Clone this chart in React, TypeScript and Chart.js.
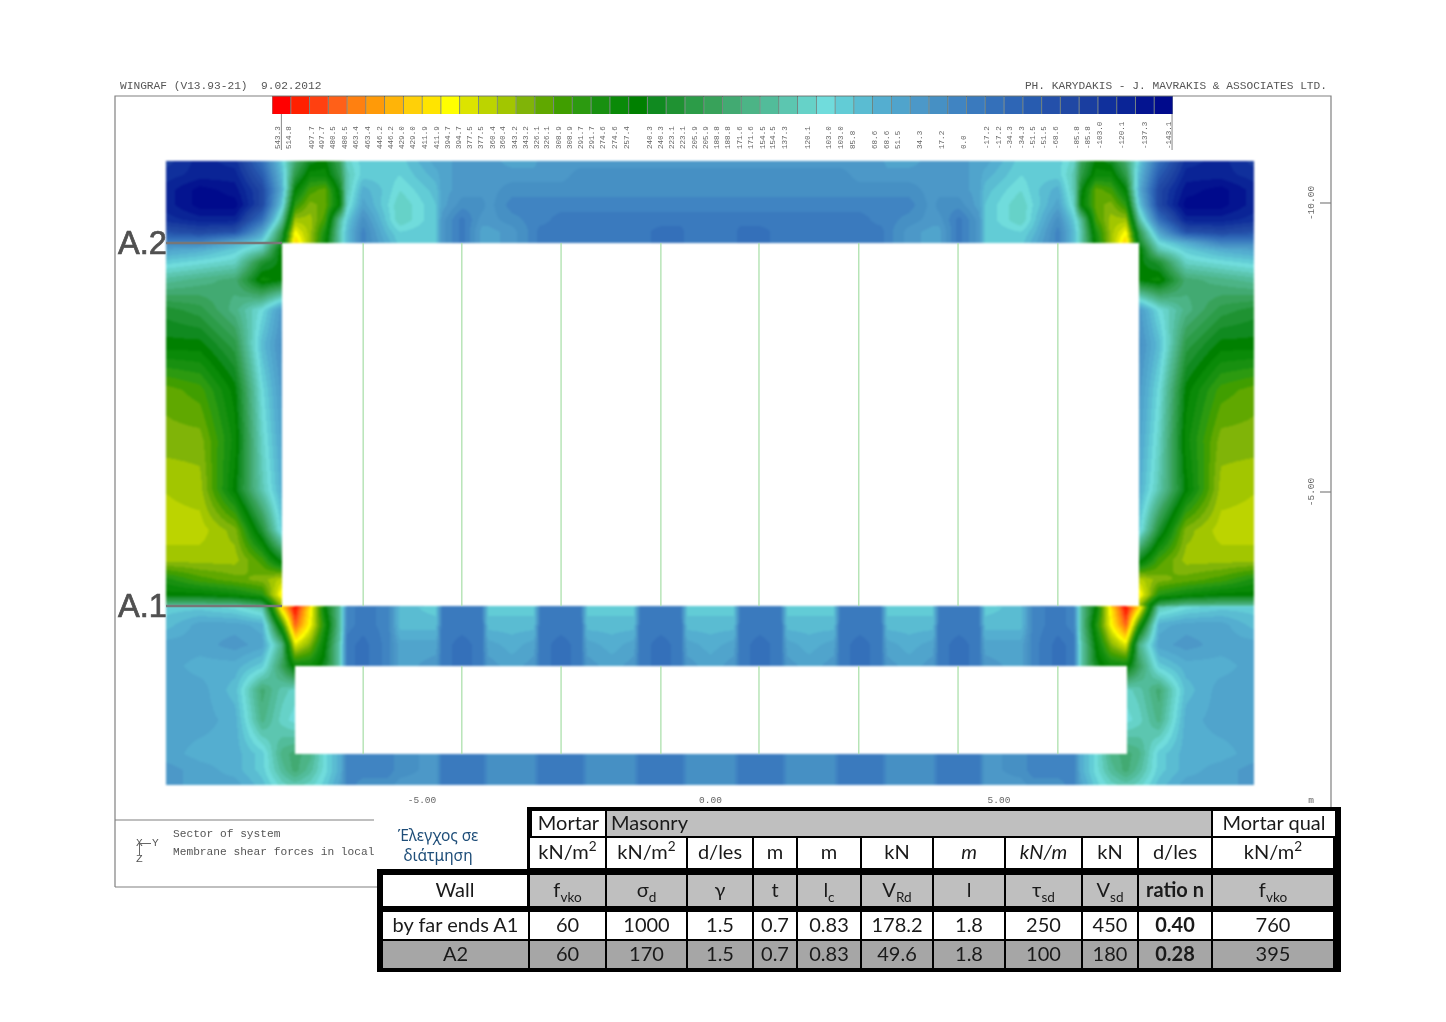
import React, { useEffect, useRef } from "react";
import { Chart, registerables } from "chart.js";

Chart.register(...registerables);

// ---------- data ----------
const LEVEL_MAX = 543.3;
const LEVEL_MIN = -143.1;

const bandColors = [
  "#ff0000", "#ff2000", "#ff4010", "#ff6018", "#ff8010", "#ff9a08", "#ffb408", "#ffd008",
  "#ffe400", "#ffff00", "#dce400", "#bcd400", "#a2c600", "#80b408", "#60a800", "#409e00",
  "#2c9a10", "#189010", "#0a8a08", "#008000", "#108a20", "#1f9232", "#2c9c48", "#38a25a",
  "#42aa72", "#4cb486", "#52bc9a", "#5cc6b0", "#66d2c8", "#70dcdc", "#62ccd6", "#5abcd2",
  "#54aed0", "#50a4cc", "#4c98c8", "#4690c4", "#4084c2", "#3a7abe", "#3470ba", "#2e66b6",
  "#285cb0", "#2450aa", "#2048a4", "#1a3ea0", "#10309c", "#0a2496", "#041490", "#000a8c",
];

const legendLabels = [
  "543.3", "514.8", "497.7", "497.7", "480.5", "480.5", "463.4", "463.4", "446.2", "446.2", "429.0", "429.0",
  "411.9", "411.9", "394.7", "394.7", "377.5", "377.5", "360.4", "360.4", "343.2", "343.2", "326.1", "326.1",
  "308.9", "308.9", "291.7", "291.7", "274.6", "274.6", "257.4", "240.3", "240.3", "223.1", "223.1", "205.9",
  "205.9", "188.8", "188.8", "171.6", "171.6", "154.5", "154.5", "137.3", "120.1", "103.0", "103.0", "85.8",
  "68.6", "68.6", "51.5", "34.3", "17.2", "0.0", "-17.2", "-17.2", "-34.3", "-34.3", "-51.5", "-51.5",
  "-68.6", "-85.8", "-85.8", "-103.0", "-120.1", "-137.3", "-143.1",
];
// where each label sits along the colour bar, in bands
const legendBandPos = [
  0.32, 0.91, 2.13, 2.66, 3.25, 3.89, 4.48, 5.11, 5.75, 6.34, 6.93, 7.51, 8.15, 8.79, 9.38, 9.96, 10.55, 11.13,
  11.77, 12.31, 12.95, 13.53, 14.12, 14.65, 15.29, 15.88, 16.46, 17.05, 17.63, 18.27, 18.91, 20.14, 20.72, 21.31,
  21.9, 22.54, 23.12, 23.71, 24.29, 24.93, 25.52, 26.16, 26.69, 27.33, 28.56, 29.68, 30.31, 30.95, 32.13, 32.77,
  33.35, 34.52, 35.7, 36.87, 38.09, 38.73, 39.32, 39.96, 40.54, 41.13, 41.77, 42.89, 43.47, 44.11, 45.29, 46.51, 47.79,
];

// mesh nodes of the left half of the wall, metres (the wall is read as symmetric about y = 0)
const yNodes = [
  -9.437, -8.847, -8.241, -7.773, -7.426, -7.201, -6.941, -6.681, -6.421, -6.3, -6.022, -5.589, -5.381,
  -4.757, -4.653, -4.307, -3.96, -3.856, -3.44, -3.059, -2.955, -2.591, -2.244, -2.14, -1.707, -1.326, -1.222,
  -0.858, -0.511, -0.407, 0,
];
const zNodes = [
  -10.727, -10.484, -10.225, -9.965, -9.706, -9.498, -9.308, -9.187, -8.979, -8.668, -8.149, -7.543, -6.765, -5.9,
  -5.035, -4.343, -3.824, -3.478, -3.218, -3.045, -3.01, -2.699, -2.353, -1.99, -1.574, -1.055, -0.467, -0.19, 0.069,
];
// membrane shear force, kN/m, one row per z node
const shearForce = [
  [-79, -107, -93, -7, 107, 193, 250, 264, 207, 136, 107, 107, 107, 64, 64, 50, 50, 50, 64, 64, 50, 50, 50, 50, 50, 50, 50, 50, 50, 50, 50],
  [-93, -107, -107, -36, 93, 221, 279, 279, 221, 150, 107, 107, 114, 78, 64, 50, 50, 50, 50, 50, 50, 50, 35, 35, 35, 35, 35, 35, 35, 35, 35],
  [-107, -136, -122, -65, 78, 264, 321, 336, 250, 150, 78, 107, 128, 93, 64, 50, 50, 50, 35, 35, 35, 35, 35, 35, 35, 35, 35, 35, 35, 35, 35],
  [-107, -136, -136, -65, 107, 307, 350, 336, 264, 136, 64, 114, 143, 100, 64, 35, 35, 50, 21, 21, 21, 21, 21, 21, 21, 21, 21, 21, 21, 21, 21],
  [-93, -107, -107, -7, 164, 364, 364, 321, 164, 107, 35, 107, 143, 100, 50, 7, 50, 50, 35, 21, 21, 7, 7, 7, 7, 7, 7, 7, 7, 7, 7],
  [-50, -65, -50, 64, 221, 407, 364, 293, 150, 93, 21, 93, 114, 100, 50, 7, 64, 64, 50, 21, 7, 7, 7, 7, 7, 7, 7, -7, -7, 7, 7],
  [21, 21, 78, 121, 250, 436, 364, 279, 150, 93, 21, 78, 107, 100, 50, 7, 64, 64, 50, 21, 7, 7, 7, 7, 7, 7, 7, -7, -7, 7, 7],
  [64, 78, 107, 150, 279],
  [107, 121, 136, 236, 264],
  [164, 178, 193, 279, 264],
  [236, 221, 178, 121, 50],
  [264, 264, 221, 93, 35],
  [336, 321, 264, 121, 50],
  [350, 350, 279, 136, 64],
  [371, 364, 264, 150, 78],
  [379, 379, 350, 236, 107],
  [364, 364, 364, 321, 250],
  [293, 321, 336, 350, 379],
  [264, 264, 279, 300, 421],
  [178, 178, 178, 207, 364],
  [107, 107, 121, 150, 436, 536, 421, 264, 164, 21, 7, 21, 93, 107, 7, 7, 7, 107, 107, 107, 7, 7, 7, 107, 107, 107, 7, 7, 7, 107, 107],
  [93, 64, 64, 78, 307, 493, 407, 293, 164, 21, 7, 21, 93, 93, 7, 7, 7, 93, 93, 93, 7, 7, 7, 93, 93, 93, 7, 7, 7, 93, 93],
  [64, 64, 50, 64, 178, 393, 350, 264, 150, 7, -7, 21, 64, 64, 7, -7, 7, 64, 78, 64, 7, -7, 7, 64, 78, 64, 7, -7, 7, 64, 78],
  [64, 78, 78, 107, 207, 279, 279, 250, 150, 7, -7, 21, 64, 50, 7, -7, 7, 50, 64, 50, 7, -7, 7, 50, 64, 50, 7, -7, 7, 50, 64],
  [64, 64, 93, 193, 150, 136],
  [64, 64, 78, 178, 136, 121],
  [64, 78, 78, 107, 178, 193, 178, 121, 78, 21, 21, 21, 35, 50, 7, 7, 7, 35, 35, 35, 7, 7, 7, 35, 35, 35, 7, 7, 7, 35, 35],
  [50, 64, 78, 107, 164, 193, 164, 121, 78, 21, 21, 21, 35, 50, 7, 7, 7, 35, 35, 35, 7, 7, 7, 35, 35, 35, 7, 7, 7, 35, 35],
  [50, 64, 64, 93, 136, 150, 136, 107, 64, 21, 35, 35, 50, 50, 7, 7, 7, 35, 35, 35, 7, 7, 7, 35, 35, 35, 7, 7, 7, 35, 35],
];

const wallLeft = -9.437;
const wallRight = 9.42;
const openingUpper = { y: 7.426, z0: -9.308, z1: -3.028 };
const openingLower = { y: 7.21, z0: -1.99, z1: -0.467 };
const frameLineY = [-6.02, -4.31, -2.59, -0.86, 0.84, 2.57, 4.29, 6.02];
const sectionZ = [-9.308, -3.028];
const xTickValues = [-5, 0, 5];
const zTickValues = [-10, -5];

// ---------- table ----------
const colEdges = [530, 607, 688, 754, 798, 862, 934, 1006, 1083, 1139, 1213, 1335];
const unitRow = ["kN/m^2", "kN/m^2", "d/les", "m", "m", "kN", "*m", "*kN/m", "kN", "d/les", "kN/m^2"];
const symbolRow = ["f_vko", "σ_d", "γ", "t", "l_c", "V_Rd", "l", "τ_sd", "V_sd", "#ratio n", "f_vko"];
const rowA1 = ["60", "1000", "1.5", "0.7", "0.83", "178.2", "1.8", "250", "450", "#0.40", "760"];
const rowA2 = ["60", "170", "1.5", "0.7", "0.83", "49.6", "1.8", "100", "180", "#0.28", "395"];

const MONO = '"Liberation Mono", monospace';
const TABLE_FONT = 'Lato, "Noto Sans", sans-serif';

function rich(s: string) {
  let bold = false;
  let italic = false;
  let t = s;
  if (t[0] === "#") { bold = true; t = t.slice(1); }
  if (t[0] === "*") { italic = true; t = t.slice(1); }
  const style = { fontWeight: bold ? 700 : 400, fontStyle: italic ? "italic" : "normal" } as React.CSSProperties;
  if (t.includes("_")) {
    const [a, b] = t.split("_");
    return <span style={style}>{a}<sub style={{ fontSize: "0.68em", lineHeight: 0 }}>{b}</sub></span>;
  }
  if (t.includes("^")) {
    const [a, b] = t.split("^");
    return <span style={style}>{a}<sup style={{ fontSize: "0.68em", lineHeight: 0 }}>{b}</sup></span>;
  }
  return <span style={style}>{t}</span>;
}

function Cell(p: { x0: number; x1: number; y0: number; y1: number; bg: string; text: string; left?: boolean }) {
  return (
    <div style={{
      position: "absolute", left: p.x0, top: p.y0, width: p.x1 - p.x0, height: p.y1 - p.y0, background: p.bg,
      display: "flex", alignItems: "center", justifyContent: p.left ? "flex-start" : "center",
      paddingLeft: p.left ? 4 : 0, paddingBottom: 4, boxSizing: "border-box", font: `20px ${TABLE_FONT}`, color: "#1a1a1a", whiteSpace: "nowrap",
    }}>{rich(p.text)}</div>
  );
}

function Row(p: { cells: string[]; y0: number; y1: number; bg: string }) {
  return <>{p.cells.map((c, i) => (
    <Cell key={i} x0={colEdges[i]} x1={colEdges[i + 1] - 2} y0={p.y0} y1={p.y1} bg={p.bg} text={c} />
  ))}</>;
}

// ---------- contour drawing ----------
function hexRgb(h: string) {
  return [parseInt(h.slice(1, 3), 16), parseInt(h.slice(3, 5), 16), parseInt(h.slice(5, 7), 16)];
}
function findSpan(nodes: number[], v: number) {
  let i = 0;
  while (i < nodes.length - 2 && v > nodes[i + 1]) i++;
  const t = Math.max(0, Math.min(1, (v - nodes[i]) / (nodes[i + 1] - nodes[i])));
  return [i, t];
}

const contourPlugin = {
  id: "contour",
  beforeDatasetsDraw(chart: any) {
    const { ctx, chartArea: a, scales } = chart;
    const xs = scales.x;
    const ys = scales.y;
    const w = Math.round(a.width);
    const h = Math.round(a.height);
    const off = document.createElement("canvas");
    off.width = w;
    off.height = h;
    const oc = off.getContext("2d") as CanvasRenderingContext2D;
    const img = oc.createImageData(w, h);
    const rgb = bandColors.map(hexRgb);
    const bandStep = (LEVEL_MAX - LEVEL_MIN) / bandColors.length;
    const colX: number[] = [];
    for (let px = 0; px < w; px++) colX.push(xs.getValueForPixel(a.left + px + 0.5));
    for (let py = 0; py < h; py++) {
      const z = ys.getValueForPixel(a.top + py + 0.5);
      if (z < zNodes[0] || z > zNodes[zNodes.length - 1]) continue;
      const [j, u] = findSpan(zNodes, z);
      const r0 = shearForce[j];
      const r1 = shearForce[j + 1];
      for (let px = 0; px < w; px++) {
        const x = colX[px];
        if (x < wallLeft || x > wallRight) continue;
        const ax = Math.abs(x);
        if (ax < openingUpper.y && z > openingUpper.z0 && z < openingUpper.z1) continue;
        if (ax < openingLower.y && z > openingLower.z0 && z < openingLower.z1) continue;
        const [i, t] = findSpan(yNodes, -ax);
        const a0 = r0[i] ?? r1[i];
        const b0 = r0[i + 1] ?? a0;
        const a1 = r1[i] ?? r0[i];
        const b1 = r1[i + 1] ?? a1;
        const v = (a0 * (1 - t) + b0 * t) * (1 - u) + (a1 * (1 - t) + b1 * t) * u;
        const band = Math.max(0, Math.min(bandColors.length - 1, Math.floor((LEVEL_MAX - v) / bandStep)));
        const c = rgb[band];
        const k = (py * w + px) * 4;
        img.data[k] = c[0];
        img.data[k + 1] = c[1];
        img.data[k + 2] = c[2];
        img.data[k + 3] = 255;
      }
    }
    oc.putImageData(img, 0, 0);
    ctx.save();
    ctx.filter = "blur(0.9px)";
    ctx.drawImage(off, a.left, a.top);
    ctx.restore();
  },
  afterDraw(chart: any) {
    const { ctx, chartArea: a, scales } = chart;
    ctx.save();
    ctx.strokeStyle = "#808080";
    ctx.lineWidth = 1.2;
    ctx.beginPath();
    ctx.moveTo(a.left, 887);
    ctx.lineTo(a.left, a.top);
    ctx.lineTo(a.right, a.top);
    ctx.lineTo(a.right, a.bottom);
    ctx.moveTo(a.left, 887);
    ctx.lineTo(378, 887);
    ctx.moveTo(a.left, 820);
    ctx.lineTo(374, 820);
    ctx.stroke();
    ctx.fillStyle = "#666";
    ctx.font = `9.5px ${MONO}`;
    ctx.textAlign = "center";
    ctx.textBaseline = "middle";
    // x axis labels inside the frame
    for (const t of scales.x.ticks) {
      ctx.fillText(t.value.toFixed(2), scales.x.getPixelForValue(t.value), 800);
    }
    // z axis ticks and rotated labels
    for (const t of scales.y.ticks) {
      const py = scales.y.getPixelForValue(t.value);
      ctx.beginPath();
      ctx.moveTo(a.right - 11, py);
      ctx.lineTo(a.right, py);
      ctx.stroke();
      ctx.save();
      ctx.translate(a.right - 20, py);
      ctx.rotate(-Math.PI / 2);
      ctx.fillText(t.value.toFixed(2), 0, 0);
      ctx.restore();
    }
    ctx.fillText("m", a.right - 20, 800);
    ctx.restore();
  },
};

const colourBarPlugin = {
  id: "colourBarLabels",
  afterDraw(chart: any) {
    const { ctx, scales } = chart;
    ctx.save();
    ctx.fillStyle = "#666";
    ctx.font = `7.6px ${MONO}`;
    ctx.textAlign = "left";
    ctx.textBaseline = "middle";
    legendLabels.forEach((s, i) => {
      const px = scales.x.getPixelForValue(legendBandPos[i] - 0.5);
      ctx.save();
      ctx.translate(px, 53);
      ctx.rotate(-Math.PI / 2);
      ctx.fillText(s, 0, 0);
      ctx.restore();
    });
    ctx.strokeStyle = "#888";
    ctx.lineWidth = 1;
    [0.5, 47.95].forEach((b) => {
      const px = scales.x.getPixelForValue(b - 0.5);
      ctx.beginPath();
      ctx.moveTo(px, 18);
      ctx.lineTo(px, 54);
      ctx.stroke();
    });
    ctx.restore();
  },
};

function pageText(left: number, top: number, s: string, right?: boolean) {
  return (
    <div style={{
      position: "absolute", top, left: right ? undefined : left, right: right ? left : undefined,
      font: `11.2px ${MONO}`, color: "#555", whiteSpace: "pre", lineHeight: "12px",
    }}>{s}</div>
  );
}

const bigLabel: React.CSSProperties = {
  position: "absolute", left: 118, font: '32.5px "Liberation Sans", sans-serif', color: "#505050",
  lineHeight: "36px", WebkitTextStroke: "0.7px #505050",
};

export default function App() {
  const mainRef = useRef<HTMLCanvasElement>(null);
  const barRef = useRef<HTMLCanvasElement>(null);

  useEffect(() => {
    const segs: any[] = [];
    frameLineY.forEach((y) => {
      segs.push({ x: y, y: openingUpper.z0 }, { x: y, y: openingUpper.z1 }, { x: NaN, y: NaN });
      segs.push({ x: y, y: openingLower.z0 }, { x: y, y: openingLower.z1 }, { x: NaN, y: NaN });
    });
    const leaders: any[] = [];
    sectionZ.forEach((z) => {
      leaders.push({ x: wallLeft, y: z }, { x: -openingUpper.y, y: z }, { x: NaN, y: NaN });
    });
    const main = new Chart(mainRef.current as HTMLCanvasElement, {
      type: "scatter",
      data: {
        datasets: [
          { label: "Frame lines", data: segs, showLine: true, pointRadius: 0, borderColor: "#a6dea6", borderWidth: 1.2, spanGaps: false },
          { label: "Sections", data: leaders, showLine: true, pointRadius: 0, borderColor: "#777", borderWidth: 2.4, spanGaps: false },
        ],
      },
      options: {
        animation: false,
        responsive: false,
        devicePixelRatio: 1,
        layout: { padding: { left: 115, right: 115, top: 96, bottom: 214 } },
        plugins: { legend: { display: false }, tooltip: { enabled: false } },
        scales: {
          x: {
            type: "linear",
            position: "bottom",
            min: -10.321,
            max: 10.754,
            afterBuildTicks: (s: any) => { s.ticks = xTickValues.map((value) => ({ value })); },
            afterFit: (s: any) => { s.height = 0; },
            grid: { display: false },
            border: { display: false },
            ticks: { display: false },
          },
          y: {
            type: "linear",
            position: "right",
            reverse: true,
            min: -11.851,
            max: 0.467,
            afterBuildTicks: (s: any) => { s.ticks = zTickValues.map((value) => ({ value })); },
            afterFit: (s: any) => { s.width = 0; },
            grid: { display: false },
            border: { display: false },
            ticks: { display: false },
          },
        },
      },
      plugins: [contourPlugin],
    } as any);

    const bar = new Chart(barRef.current as HTMLCanvasElement, {
      type: "bar",
      data: {
        labels: bandColors.map((_, i) => String(i)),
        datasets: [{
          label: "Levels",
          data: bandColors.map(() => 1),
          backgroundColor: bandColors,
          borderColor: "rgba(0,30,20,0.45)",
          borderWidth: 0.8,
          categoryPercentage: 1,
          barPercentage: 1,
        }],
      },
      options: {
        animation: false,
        responsive: false,
        devicePixelRatio: 1,
        layout: { padding: { left: 0, right: 0, top: 0, bottom: 42 } },
        plugins: { legend: { display: false }, tooltip: { enabled: false } },
        scales: {
          x: { display: false },
          y: { display: false, min: 0, max: 1 },
        },
      },
      plugins: [colourBarPlugin],
    } as any);

    return () => {
      main.destroy();
      bar.destroy();
    };
  }, []);

  return (
    <div style={{ position: "absolute", left: 0, top: 0, width: 1446, height: 1022, overflow: "hidden", background: "#fff" }}>
      <canvas ref={mainRef} width={1446} height={1022} style={{ position: "absolute", left: 0, top: 0 }} />
      <canvas ref={barRef} width={901} height={60} style={{ position: "absolute", left: 272, top: 96 }} />

      {pageText(120, 80, "WINGRAF (V13.93-21)  9.02.2012")}
      {pageText(119, 80, "PH. KARYDAKIS - J. MAVRAKIS & ASSOCIATES LTD.", true)}
      {pageText(173, 828, "Sector of system")}
      {pageText(173, 846, "Membrane shear forces in local")}
      {pageText(136, 837, "X")}
      {pageText(152, 837, "Y")}
      {pageText(136, 853, "Z")}
      <div style={{ position: "absolute", left: 139, top: 843, width: 12, height: 1, background: "#666" }} />
      <div style={{ position: "absolute", left: 139, top: 843, width: 1, height: 12, background: "#666" }} />

      <div style={{ ...bigLabel, top: 225 }}>A.2</div>
      <div style={{ ...bigLabel, top: 588 }}>A.1</div>

      <div style={{
        position: "absolute", left: 378, top: 825, width: 120, textAlign: "center",
        font: '15.5px/20px "Noto Sans", sans-serif', color: "#1f4e79",
      }}>Έλεγχος σε<br />διάτμηση</div>

      <div style={{ position: "absolute", left: 527, top: 807, width: 814, height: 70, background: "#000" }} />
      <div style={{ position: "absolute", left: 377, top: 869, width: 964, height: 103, background: "#000" }} />

      <Cell x0={532} x1={605} y0={811} y1={836} bg="#fff" text="Mortar" />
      <Cell x0={607} x1={1211} y0={811} y1={836} bg="#bfbfbf" text="Masonry" left />
      <Cell x0={1213} x1={1335} y0={811} y1={836} bg="#fff" text="Mortar qual" />

      <Row cells={unitRow} y0={838} y1={868} bg="#fff" />
      <Cell x0={383} x1={527} y0={875} y1={906} bg="#fff" text="Wall" />
      <Row cells={symbolRow} y0={875} y1={906} bg="#bfbfbf" />
      <Cell x0={383} x1={528} y0={912} y1={939} bg="#fff" text="by far ends A1" />
      <Row cells={rowA1} y0={912} y1={939} bg="#fff" />
      <Cell x0={383} x1={528} y0={941} y1={968} bg="#a6a6a6" text="A2" />
      <Row cells={rowA2} y0={941} y1={968} bg="#a6a6a6" />
    </div>
  );
}
